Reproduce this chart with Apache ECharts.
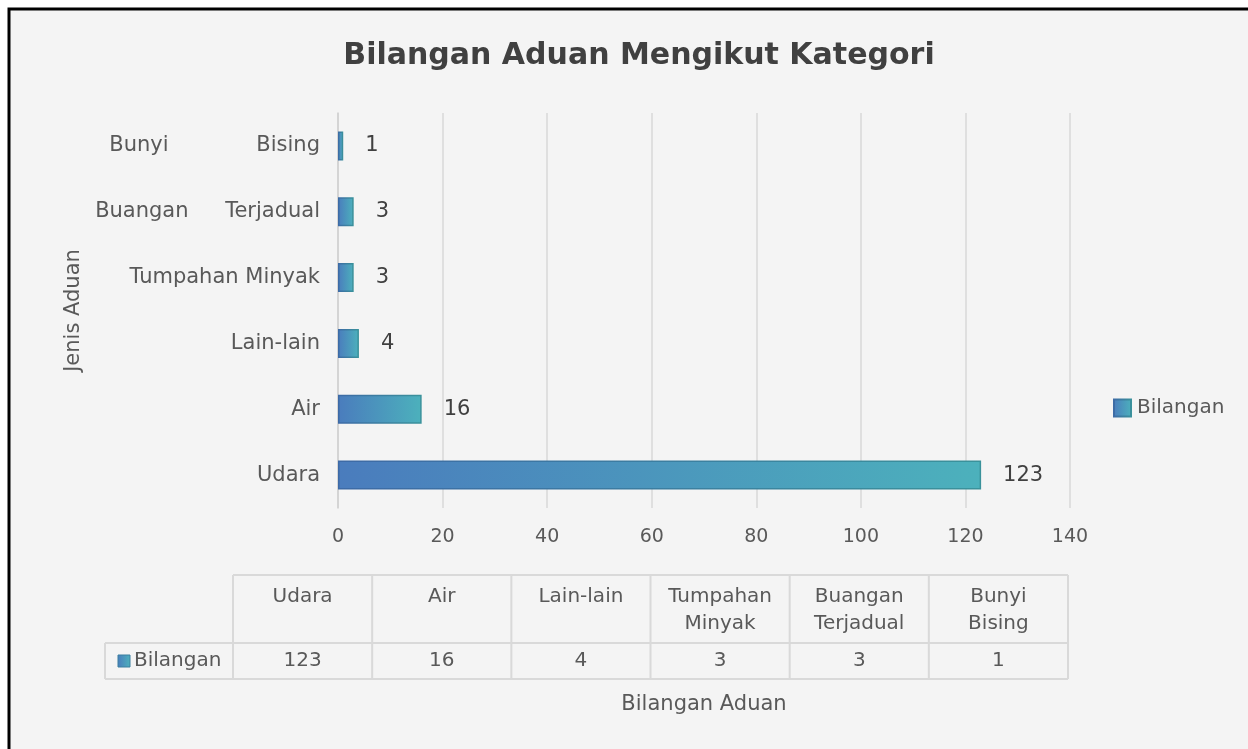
<!DOCTYPE html>
<html>
<head>
<meta charset="utf-8">
<script src="https://cdn.jsdelivr.net/npm/echarts@6/dist/echarts.min.js"></script>
<style>
  html, body { margin: 0; padding: 0; background: #fff; }
</style>
</head>
<body>
<div id="main" style="width: 1248px; height: 749px"></div>
<script>
const categories = ['Udara', 'Air', 'Lain-lain', 'Tumpahan Minyak', 'Buangan Terjadual', 'Bunyi Bising']
const values = [123, 16, 4, 3, 3, 1]
const seriesName = 'Bilangan'
const xTicks = [0, 20, 40, 60, 80, 100, 120, 140]

const FONT = 'DejaVu Sans'
const barGrad = () => new echarts.graphic.LinearGradient(0, 0, 1, 0, [
  { offset: 0, color: '#4a7cbd' },
  { offset: 1, color: '#4cb1bc' }
])
const borderGrad = () => new echarts.graphic.LinearGradient(0, 0, 1, 0, [
  { offset: 0, color: '#3d6aa6' },
  { offset: 1, color: '#3a929b' }
])

// jadual data di bawah carta
const tableLeft = 233
const tableRight = 1068
const legendCellLeft = 105
const rowTop = 575
const rowMid = 643
const rowBottom = 679
const colW = (tableRight - tableLeft) / categories.length
const lineStyle = { stroke: '#d9d9d9', lineWidth: 2 }

const graphics = [
  // bingkai luar
  {
    type: 'rect',
    z: -10,
    shape: { x: 9, y: 9, width: 1300, height: 800 },
    style: { fill: '#f4f4f4', stroke: '#000', lineWidth: 3 }
  },
  { type: 'line', shape: { x1: tableLeft, y1: rowTop, x2: tableRight, y2: rowTop }, style: lineStyle },
  { type: 'line', shape: { x1: legendCellLeft, y1: rowMid, x2: tableRight, y2: rowMid }, style: lineStyle },
  { type: 'line', shape: { x1: legendCellLeft, y1: rowBottom, x2: tableRight, y2: rowBottom }, style: lineStyle },
  { type: 'line', shape: { x1: legendCellLeft, y1: rowMid, x2: legendCellLeft, y2: rowBottom }, style: lineStyle },
  {
    type: 'rect',
    shape: { x: 118, y: 655, width: 12, height: 12 },
    style: { fill: barGrad(), stroke: '#3a7f9f', lineWidth: 1 }
  },
  {
    type: 'text',
    x: 134,
    y: 661,
    style: { text: seriesName, fill: '#595959', font: '20px "DejaVu Sans"', verticalAlign: 'middle' }
  }
]
for (let i = 0; i <= categories.length; i++) {
  const x = tableLeft + i * colW
  graphics.push({ type: 'line', shape: { x1: x, y1: rowTop, x2: x, y2: rowBottom }, style: lineStyle })
}
categories.forEach((c, i) => {
  const cx = tableLeft + (i + 0.5) * colW
  graphics.push({
    type: 'text',
    x: cx,
    y: 583,
    style: {
      text: c.replace(' ', '\n'),
      fill: '#595959',
      font: '20px "DejaVu Sans"',
      align: 'center',
      verticalAlign: 'top',
      lineHeight: 27
    }
  })
  graphics.push({
    type: 'text',
    x: cx,
    y: 661,
    style: { text: String(values[i]), fill: '#595959', font: '20px "DejaVu Sans"', align: 'center', verticalAlign: 'middle' }
  })
})

// label kategori yang dijarakkan
const spreadKey = { 'Bunyi Bising': 'w1', 'Buangan Terjadual': 'w2' }
const labelBase = { fontFamily: FONT, fontSize: 21, color: '#595959' }

const myChart = echarts.init(document.getElementById('main'))
const option = {
  backgroundColor: '#fff',
  animation: false,
  title: {
    text: 'Bilangan Aduan Mengikut Kategori',
    left: 634,
    top: 36,
    textAlign: 'center',
    textStyle: { fontFamily: FONT, fontWeight: 'bold', fontSize: 30, color: '#404040' }
  },
  legend: {
    data: [seriesName],
    left: 1113,
    top: 398,
    padding: 0,
    icon: 'rect',
    itemWidth: 17,
    itemHeight: 17,
    itemGap: 6,
    textStyle: { fontFamily: FONT, fontSize: 20, color: '#595959', padding: [0, 0, 0, 1] }
  },
  grid: { left: 338, right: 178, top: 113, bottom: 241 },
  xAxis: {
    type: 'value',
    min: 0,
    max: 140,
    interval: 20,
    name: 'Bilangan Aduan',
    nameLocation: 'middle',
    nameGap: 186,
    nameTextStyle: { fontFamily: FONT, fontSize: 21, color: '#595959' },
    axisLine: { show: false },
    axisTick: { show: false },
    axisLabel: {
      fontFamily: FONT,
      fontSize: 19,
      color: '#595959',
      margin: 20,
      formatter: (v) => (xTicks.includes(v) ? String(v) : '')
    },
    splitLine: { show: true, lineStyle: { color: '#d9d9d9', width: 1.5 } }
  },
  yAxis: {
    type: 'category',
    data: categories,
    name: 'Jenis Aduan',
    nameLocation: 'middle',
    nameGap: 254,
    nameRotate: 90,
    nameTextStyle: { fontFamily: FONT, fontSize: 21, color: '#595959' },
    axisLine: { show: true, lineStyle: { color: '#d0d0d0', width: 1.5 } },
    axisTick: { show: false },
    axisLabel: {
      fontFamily: FONT,
      fontSize: 21,
      color: '#595959',
      margin: 18,
      formatter: (v) => {
        if (spreadKey[v]) {
          const parts = v.split(' ')
          return '{' + spreadKey[v] + '|' + parts[0] + '}{b|' + parts[1] + '}'
        }
        return v
      },
      rich: {
        w1: Object.assign({ width: 147, align: 'left' }, labelBase),
        w2: Object.assign({ width: 130, align: 'left' }, labelBase),
        b: labelBase
      }
    }
  },
  series: [
    {
      name: seriesName,
      type: 'bar',
      data: values,
      barWidth: 29,
      itemStyle: { color: barGrad(), borderColor: borderGrad(), borderWidth: 1.5 },
      label: {
        show: true,
        position: 'right',
        distance: 22,
        fontFamily: FONT,
        fontSize: 21,
        color: '#404040'
      }
    }
  ],
  graphic: graphics
}

option && myChart.setOption(option)
</script>
</body>
</html>
